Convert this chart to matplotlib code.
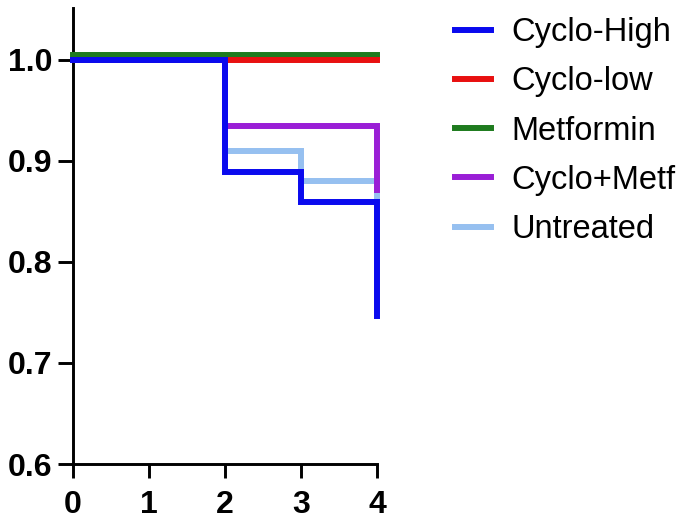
#!/usr/bin/env python3
import matplotlib
matplotlib.use("Agg")
import matplotlib.pyplot as plt

plt.rcParams["font.family"] = ["Liberation Sans", "DejaVu Sans"]

# survival data (step curves, post)
groups = ["Cyclo-High", "Cyclo-low", "Metformin", "Cyclo+Metf", "Untreated"]
times_high = [0, 2, 3, 4]
surv_high = [1.0, 0.889, 0.859, 0.746]
times_low = [0, 4]
surv_low = [1.0, 1.0]
times_metf = [0, 4]
surv_metf = [1.005, 1.005]
times_combo = [0, 2, 4]
surv_combo = [1.0, 0.934, 0.871]
times_untr = [0, 2, 3, 4]
surv_untr = [1.0, 0.910, 0.880, 0.864]

x_ticks = [0, 1, 2, 3, 4]
y_ticks = [0.6, 0.7, 0.8, 0.9, 1.0]

COL_HIGH = "#0A0AEE"
COL_LOW = "#E81010"
COL_METF = "#1E7B1E"
COL_COMBO = "#9A1ED6"
COL_UNTR = "#96C0F0"

fig = plt.figure(figsize=(6.85, 5.24), dpi=100)
ax = fig.add_axes([0.1066, 0.1145, 0.4438, 0.870])

lw = 4.3
series = [
    (times_untr, surv_untr, COL_UNTR, "Untreated", 2),
    (times_combo, surv_combo, COL_COMBO, "Cyclo+Metf", 3),
    (times_metf, surv_metf, COL_METF, "Metformin", 4),
    (times_low, surv_low, COL_LOW, "Cyclo-low", 5),
    (times_high, surv_high, COL_HIGH, "Cyclo-High", 6),
]
handles = {}
for t, s, c, lab, z in series:
    ln, = ax.step(t, s, where="post", color=c, lw=lw, label=lab, zorder=z,
                  clip_on=False, solid_joinstyle="miter")
    handles[lab] = ln

ax.set_xlim(0, 4)
ax.set_ylim(0.6, 1.051)
ax.set_xticks(x_ticks)
ax.set_yticks(y_ticks)
ax.set_xticklabels([str(v) for v in x_ticks], fontsize=23, fontweight="bold")
ax.set_yticklabels([f"{v:.1f}" for v in y_ticks], fontsize=23, fontweight="bold")

for side in ["top", "right"]:
    ax.spines[side].set_visible(False)
for side in ["left", "bottom"]:
    ax.spines[side].set_linewidth(2.1)
ax.tick_params(axis="y", direction="out", width=2.1, length=11, pad=4)
ax.tick_params(axis="x", direction="out", width=2.1, length=10, pad=9)

hl = [handles[g] for g in groups]
fig.legend(hl, groups, loc="upper left", bbox_to_anchor=(0.664, 0.9676),
           frameon=False, fontsize=23.5, handlelength=1.1, handletextpad=0.64,
           labelspacing=0.56, borderpad=0, borderaxespad=0)

fig.savefig("out.png", dpi=100)
